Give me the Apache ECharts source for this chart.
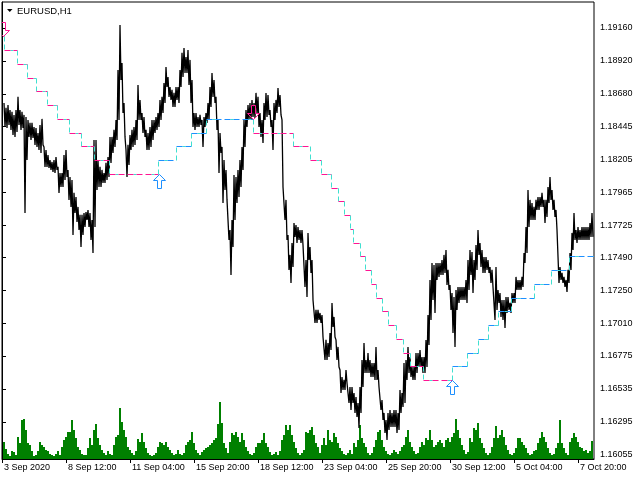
<!DOCTYPE html>
<html><head><meta charset="utf-8">
<script src="https://cdn.jsdelivr.net/npm/echarts@6/dist/echarts.min.js"></script>
<style>html,body{margin:0;padding:0;background:#fff}#c{width:640px;height:480px}</style>
</head><body><div id="c"></div><script>
// time axis (bar index of each labelled bar, H1 bars)
const dateLabels=["3 Sep 2020","8 Sep 12:00","11 Sep 04:00","15 Sep 20:00","18 Sep 12:00","23 Sep 04:00","25 Sep 20:00","30 Sep 12:00","5 Oct 04:00","7 Oct 20:00"];
const dateTickBars=[0,64,128,192,256,320,384,448,512,576];
const priceTicks=[1.19160,1.18920,1.18680,1.18445,1.18205,1.17965,1.17725,1.17490,1.17250,1.17010,1.16775,1.16535,1.16295,1.16055];
const firstBar=2, barStep=2, lastBar=592;
// sampled highs / lows (one sample per 2 H1 bars)
const highs=[1.18615,1.18579,1.18600,1.18564,1.18550,1.18528,1.18564,1.18659,1.18564,1.18550,
1.18528,1.18513,1.18491,1.18470,1.18470,1.18440,1.18433,1.18397,1.18455,1.18499,
1.18295,1.18273,1.18237,1.18200,1.18186,1.18200,1.18222,1.18150,1.18106,1.18106,
1.18237,1.18273,1.18128,1.18077,1.18055,1.17961,1.17931,1.17859,1.17801,1.17801,
1.17815,1.17822,1.17837,1.17815,1.17764,1.18346,1.18346,1.18200,1.18150,1.18128,
1.18106,1.18179,1.18222,1.18368,1.18368,1.18419,1.18491,1.18855,1.19182,1.18906,
1.18615,1.18273,1.18310,1.18382,1.18419,1.18440,1.18491,1.18746,1.18637,1.18542,
1.18513,1.18419,1.18397,1.18440,1.18491,1.18491,1.18513,1.18542,1.18637,1.18659,
1.18760,1.18877,1.18804,1.18731,1.18710,1.18688,1.18731,1.18731,1.18855,1.18979,
1.19015,1.18949,1.19000,1.18928,1.18782,1.18542,1.18542,1.18513,1.18528,1.18491,
1.18513,1.18542,1.18615,1.18731,1.18833,1.18782,1.18659,1.18491,1.18397,1.18295,
1.18200,1.18128,1.17910,1.17691,1.17764,1.18091,1.18077,1.18128,1.18200,1.18295,
1.18491,1.18564,1.18600,1.18615,1.18637,1.18615,1.18688,1.18659,1.18542,1.18491,
1.18615,1.18688,1.18673,1.18564,1.18491,1.18615,1.18637,1.18724,1.18673,1.18491,
1.18004,1.17910,1.17655,1.17510,1.17597,1.17742,1.17728,1.17713,1.17691,1.17691,
1.17582,1.17473,1.17670,1.17568,1.17473,1.17182,1.17110,1.17110,1.17088,1.17073,
1.16913,1.16892,1.16870,1.16942,1.17161,1.17059,1.16892,1.16841,1.16673,1.16622,
1.16601,1.16673,1.16579,1.16550,1.16550,1.16506,1.16477,1.16433,1.16550,1.16746,
1.16870,1.16746,1.16797,1.16746,1.16724,1.16724,1.16841,1.16673,1.16550,1.16455,
1.16361,1.16310,1.16361,1.16382,1.16361,1.16382,1.16382,1.16361,1.16528,1.16506,
1.16724,1.16746,1.16841,1.16768,1.16695,1.16695,1.16797,1.16797,1.16819,1.16768,
1.16768,1.16892,1.17073,1.17328,1.17451,1.17437,1.17451,1.17451,1.17451,1.17473,
1.17510,1.17546,1.17401,1.17291,1.17233,1.17204,1.17255,1.17277,1.17277,1.17277,
1.17277,1.17328,1.17473,1.17546,1.17531,1.17473,1.17582,1.17691,1.17597,1.17546,
1.17495,1.17495,1.17473,1.17422,1.17401,1.17277,1.17422,1.17255,1.17233,1.17182,
1.17182,1.17204,1.17204,1.17161,1.17233,1.17233,1.17350,1.17328,1.17328,1.17350,
1.17524,1.17713,1.17982,1.17910,1.17888,1.17859,1.17910,1.17931,1.17931,1.17961,
1.17910,1.17910,1.18004,1.18077,1.17982,1.17910,1.17837,1.17691,1.17422,1.17379,
1.17350,1.17328,1.17401,1.17524,1.17670,1.17815,1.17691,1.17713,1.17691,1.17713,
1.17713,1.17713,1.17713,1.17742,1.17815];
const lows=[1.18440,1.18433,1.18455,1.18419,1.18382,1.18368,1.18404,1.18455,1.18419,1.18433,
1.17815,1.18200,1.18368,1.18346,1.18360,1.18310,1.18295,1.18273,1.18251,1.18310,
1.18150,1.18150,1.18142,1.18128,1.18113,1.18106,1.18128,1.17961,1.18004,1.18004,
1.18055,1.18077,1.17910,1.17859,1.17655,1.17815,1.17750,1.17691,1.17568,1.17655,
1.17713,1.17764,1.17713,1.17619,1.17524,1.17713,1.17982,1.18004,1.18004,1.18033,
1.18033,1.18055,1.18077,1.18179,1.18251,1.18295,1.18346,1.18491,1.18782,1.18542,
1.18368,1.18077,1.18164,1.18273,1.18295,1.18310,1.18346,1.18491,1.18491,1.18397,
1.18368,1.18273,1.18273,1.18295,1.18346,1.18397,1.18419,1.18440,1.18491,1.18542,
1.18615,1.18731,1.18659,1.18637,1.18586,1.18586,1.18637,1.18615,1.18731,1.18804,
1.18833,1.18833,1.18746,1.18615,1.18440,1.18419,1.18440,1.18440,1.18455,1.18295,
1.18440,1.18470,1.18491,1.18586,1.18659,1.18615,1.18419,1.18106,1.18251,1.17888,
1.17982,1.17910,1.17619,1.17364,1.17568,1.17764,1.17888,1.17931,1.18004,1.18128,
1.18295,1.18440,1.18491,1.18491,1.18513,1.18506,1.18542,1.18440,1.18368,1.18324,
1.18491,1.18513,1.18528,1.18440,1.18273,1.18491,1.18542,1.18586,1.18528,1.18004,
1.17764,1.17619,1.17401,1.17306,1.17422,1.17641,1.17597,1.17619,1.17597,1.17582,
1.17277,1.17204,1.17473,1.17379,1.17182,1.17015,1.17015,1.17037,1.17015,1.16913,
1.16746,1.16746,1.16768,1.16819,1.16986,1.16913,1.16746,1.16695,1.16506,1.16528,
1.16528,1.16579,1.16433,1.16382,1.16433,1.16361,1.16332,1.16251,1.16361,1.16550,
1.16652,1.16652,1.16652,1.16622,1.16622,1.16601,1.16601,1.16550,1.16382,1.16310,
1.16215,1.16164,1.16237,1.16259,1.16259,1.16259,1.16215,1.16237,1.16361,1.16404,
1.16433,1.16601,1.16652,1.16622,1.16601,1.16601,1.16652,1.16695,1.16695,1.16652,
1.16652,1.16695,1.16855,1.17037,1.17182,1.17088,1.17328,1.17350,1.17364,1.17364,
1.17379,1.17291,1.17255,1.17110,1.16942,1.16841,1.17110,1.17161,1.17182,1.17182,
1.17182,1.17161,1.17255,1.17364,1.17233,1.17328,1.17401,1.17510,1.17422,1.17379,
1.17379,1.17401,1.17379,1.17306,1.17277,1.17037,1.17110,1.17161,1.17059,1.17037,
1.16979,1.17088,1.17110,1.17088,1.17161,1.17161,1.17255,1.17255,1.17255,1.17277,
1.17451,1.17524,1.17713,1.17764,1.17764,1.17764,1.17837,1.17837,1.17859,1.17859,
1.17742,1.17786,1.17888,1.17910,1.17837,1.17786,1.17691,1.17306,1.17328,1.17306,
1.17277,1.17241,1.17306,1.17401,1.17546,1.17619,1.17597,1.17619,1.17619,1.17619,
1.17619,1.17619,1.17619,1.17641,1.17641];
// tick volume (same sampling)
const volumes=[1700,1000,500,300,800,700,400,2200,1600,3900,
4000,2900,1600,1400,800,300,400,800,1700,1400,
1200,900,800,500,400,300,500,800,400,1200,
1900,2200,2700,2700,3900,2900,2100,1200,900,500,
400,400,1100,2100,1400,2900,3500,2100,1400,900,
600,400,800,500,400,1400,2200,2400,5100,3700,
2900,2200,1200,900,600,400,800,2000,1700,2600,
1700,1100,600,400,300,400,600,1200,1700,1600,
1400,1700,1200,900,600,400,500,900,500,400,
600,1400,1700,1900,2700,1600,900,600,400,700,
900,1100,1200,1400,1600,1900,2100,3500,5700,3600,
1600,1100,600,1700,2600,2400,2700,2200,1700,2600,
1900,1200,800,500,400,600,1200,1600,1600,1900,
2600,1600,1200,700,400,500,700,400,800,1900,
2400,3400,2900,3400,2400,1700,1100,600,400,600,
900,2700,2600,2900,3200,2400,1600,1200,600,1400,
2100,1400,2900,1900,1700,2600,2200,1600,1100,800,
500,400,600,900,500,1600,1200,1900,3400,2100,
1600,1200,600,400,600,1200,1900,2700,2900,1900,
1200,800,500,400,600,900,700,500,800,1200,
1400,2200,2900,1700,1200,800,500,600,1200,1700,
1400,2100,1900,2900,1900,1200,1400,1700,1900,1600,
1200,1900,2100,1700,2200,2600,4000,2900,2100,1400,
900,500,700,2100,1700,3100,2900,3600,2100,1600,
1100,600,400,600,1200,2100,3300,2100,2400,2900,
2200,1400,900,500,400,600,1100,2100,2100,1700,
1400,1100,600,400,500,800,900,1600,2100,2700,
2200,1700,1100,600,400,500,1100,1600,3900,1600,
1100,600,400,1700,2100,2600,2200,1700,1200,1100,
800,900,600,800,1800];
// stepped trailing-stop indicator
const stepStart=[1,2,15,25,34,45,55,67,79,92,107, 156,174,189,204, 251,291,308,319,329,336,342,348,351,358,363,369,374,380,386,394,401,408,421, 450,465,476,486,496,509,532,549,567];
const stepLevel=[1.1910,1.1900,1.1890,1.1880,1.1870,1.1860,1.1850,1.1840,1.1830,1.1820,1.1810, 1.1820,1.1830,1.1840,1.1850, 1.1840,1.1830,1.1820,1.1810,1.1800,1.1790,1.1780,1.1770,1.1760,1.1750,1.1740,1.1730,1.1720,1.1710,1.1700,1.1690,1.1680,1.1670,1.1660, 1.1670,1.1680,1.1690,1.1700,1.1710,1.1720,1.1730,1.1740,1.1750];
const stepUp=[0,0,0,0,0,0,0,0,0,0,0, 1,1,1,1, 0,0,0,0,0,0,0,0,0,0,0,0,0,0,0,0,0,0,0, 1,1,1,1,1,1,1,1,1];
// signal arrows
const arrowBars=[1,157,251,450];
const arrowPrices=[1.1910,1.1810,1.1850,1.1660];
const arrowUp=[0,1,0,1];

const FONT='"Liberation Sans", Arial, sans-serif';
// price drawn as a high/low zig-zag, one pixel column per bar
const priceLine=[];
highs.forEach((h,i)=>{const b=firstBar+barStep*i; priceLine.push([b,h]); priceLine.push([b+1,lows[i]]);});
const volData=volumes.map((v,i)=>[firstBar+barStep*i,v]);
const stepData=stepStart.map((s,i)=>{
  const last=i===stepStart.length-1;
  return [s, last?lastBar:stepStart[i+1], stepLevel[i], last?stepLevel[i]:stepLevel[i+1], stepUp[i]];
});
const arrowData=arrowBars.map((b,i)=>[b,arrowPrices[i],arrowUp[i]]);

const chart=echarts.init(document.getElementById('c'),null,{renderer:'canvas'});
chart.setOption({
  animation:false,
  backgroundColor:'#fff',
  grid:{left:2,right:46,top:2,bottom:21,show:true,borderColor:'#000',borderWidth:1,backgroundColor:'transparent'},
  xAxis:{type:'value',min:0,max:lastBar,splitLine:{show:false},
    axisLine:{show:true,onZero:false,lineStyle:{color:'#000',width:1}},
    axisTick:{show:true,customValues:dateTickBars,length:4,lineStyle:{color:'#000'}},
    axisLabel:{customValues:dateTickBars,formatter:v=>dateLabels[dateTickBars.indexOf(v)]||'',align:'left',
      margin:4,padding:[0,0,0,2],color:'#000',fontSize:9,fontFamily:FONT}},
  yAxis:[
    {type:'value',position:'right',min:1.16026,max:1.19349,splitLine:{show:false},
      axisLine:{show:true,lineStyle:{color:'#000',width:1}},
      axisTick:{show:true,customValues:priceTicks,length:4,lineStyle:{color:'#000'}},
      axisLabel:{customValues:priceTicks,formatter:v=>v.toFixed(5),margin:6,color:'#000',fontSize:9,fontFamily:FONT}},
    {type:'value',min:0,max:45700,show:false,splitLine:{show:false}}
  ],
  graphic:[
    {type:'polygon',shape:{points:[[7,9],[12.5,9],[9.75,12]]},style:{fill:'#000'}},
    {type:'text',x:17,y:11,style:{text:'EURUSD,H1',font:'9.5px '+FONT,fill:'#000',verticalAlign:'middle'}}
  ],
  series:[
    {type:'custom',name:'Volume',yAxisIndex:1,clip:true,z:1,data:volData,encode:{x:0,y:1},
      renderItem:(p,api)=>{
        const a=api.coord([api.value(0),0]), b=api.coord([api.value(0),api.value(1)]);
        const x=Math.round(a[0])-1, y0=Math.round(a[1]), y1=Math.round(b[1]);
        return {type:'rect',shape:{x:x,y:y1,width:2,height:Math.max(1,y0-y1)},style:{fill:'#008000'}};
      }},
    {type:'line',name:'EURUSD',yAxisIndex:0,clip:true,z:3,data:priceLine,showSymbol:false,symbol:'none',
      lineStyle:{color:'#000',width:1.3},emphasis:{disabled:true}},
    {type:'custom',name:'Stop',yAxisIndex:0,clip:true,z:4,data:stepData,encode:{x:[0,1],y:[2,3]},
      renderItem:(p,api)=>{
        const s=api.value(0),e=api.value(1),lv=api.value(2),nl=api.value(3),up=api.value(4);
        const a=api.coord([s,lv]), b=api.coord([e,lv]), c=api.coord([e,nl]);
        const y=Math.round(a[1])+0.5, y2=Math.round(c[1])+0.5, xa=Math.round(a[0])+0.5, xb=Math.round(b[0])+0.5;
        const col=up?'#1E90FF':'#FF1493';
        const ch=[
          {type:'line',shape:{x1:xa,y1:y,x2:xb,y2:y},style:{stroke:'#40E0D0',lineWidth:1,lineDash:[3,15],lineDashOffset:-6}},
          {type:'line',shape:{x1:xa,y1:y,x2:xb,y2:y},style:{stroke:col,lineWidth:1,lineDash:[6,3]}}
        ];
        if(y2!==y) ch.push({type:'line',shape:{x1:xb,y1:y,x2:xb,y2:y2},style:{stroke:'#40E0D0',lineWidth:1,lineDash:[5,3]}});
        return {type:'group',children:ch};
      }},
    {type:'custom',name:'Signals',yAxisIndex:0,clip:true,z:5,data:arrowData,encode:{x:0,y:1},
      renderItem:(p,api)=>{
        const c=api.coord([api.value(0),api.value(1)]); const up=api.value(2);
        const cx=Math.round(c[0])+0.5, ty=Math.round(c[1])+0.5, s=up?1:-1;
        const pts=[[0,0],[6,6],[2,6],[2,14],[-2,14],[-2,6],[-6,6]].map(q=>[cx+q[0],ty+s*q[1]]);
        return {type:'polygon',shape:{points:pts},style:{fill:'rgba(255,255,255,0)',stroke:up?'#1E90FF':'#FF1493',lineWidth:1}};
      }}
  ]
});
</script></body></html>
